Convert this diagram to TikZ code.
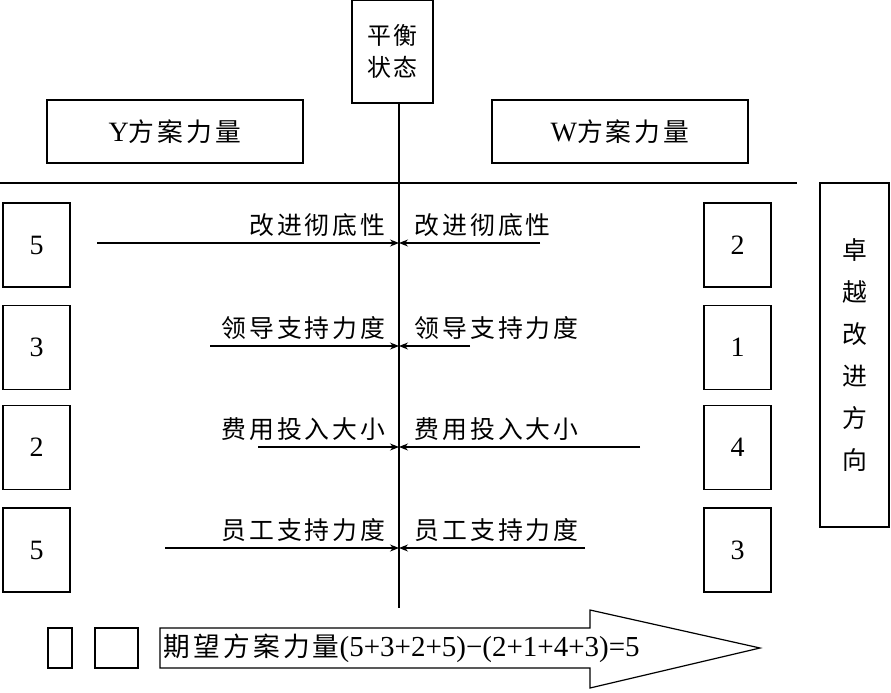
\documentclass[tikz,border=0pt]{standalone}
\usepackage{fontspec}
\usetikzlibrary{arrows.meta}
\setmainfont{Liberation Serif}
\newfontfamily\cjk{Noto Sans CJK SC}[Scale=0.92,LetterSpace=12]
\newfontfamily\cjkt{Noto Sans CJK SC}[Scale=0.92]
\begin{document}
\begin{tikzpicture}[x=1pt,y=-1pt,line width=1.2pt,
  bx/.style={draw,inner sep=0pt},
  num/.style={font=\fontsize{28}{32}\selectfont},
  lbl/.style={font=\fontsize{27}{30}\selectfont\cjk},
  ar/.style={-{Stealth[length=9pt,width=7pt]}}]
\useasboundingbox (0,0) rectangle (891,693);
\node[bx,minimum width=81pt,minimum height=103pt,align=center,font=\fontsize{26}{32}\selectfont\cjk] (top) at (392.5,51.5) {平衡\\状态};
\coordinate (vb) at (399,608);
\draw (top.south -| 399,0) -- (vb);
\node[bx,minimum width=256pt,minimum height=63pt,num] (Y) at (175,131.5) {Y{\cjk 方案力量}};
\node[bx,minimum width=256pt,minimum height=63pt,num] (W) at (620,131.5) {W{\cjk 方案力量}};
\coordinate (h1) at (0,183); \coordinate (h2) at (797,183);
\draw (h1) -- (h2);
\node[bx,minimum width=69pt,minimum height=344pt,align=center,font=\fontsize{27}{30}\selectfont\cjkt] (R) at (854.5,355) {卓\\[12pt]越\\[12pt]改\\[12pt]进\\[12pt]方\\[12pt]向};
\foreach \i/\yc/\l/\r/\xl/\xr/\ya/\txt in {1/245/5/2/97/540/243/改进彻底性, 2/347.5/3/1/210/470/346/领导支持力度, 3/447.5/2/4/258/640/447/费用投入大小, 4/550/5/3/165/585/548/员工支持力度}{
  \node[bx,minimum width=67pt,minimum height=84pt,num] (L\i) at (36.5,\yc) {\l};
  \node[bx,minimum width=67pt,minimum height=84pt,num] (Rb\i) at (737.5,\yc) {\r};
  \coordinate (c\i) at (399,\ya);
  \coordinate (sl\i) at (\xl,\ya);
  \coordinate (sr\i) at (\xr,\ya);
  \draw[ar] (sl\i) -- (c\i);
  \draw[ar] (sr\i) -- (c\i);
  \node[lbl,anchor=south east,inner sep=0pt] (tl\i) at (386,\ya-6) {\txt};
  \node[lbl,anchor=south west,inner sep=0pt] (tr\i) at (414,\ya-6) {\txt};
}
\node[bx,minimum width=24pt,minimum height=40pt] (s1) at (60,648) {};
\node[bx,minimum width=43pt,minimum height=40pt] (s2) at (116.5,648) {};
\draw (160,628) -- (590,628) -- (590,610) -- (760,648) -- (590,688) -- (590,668) -- (160,668) -- cycle;
\node[anchor=west,inner sep=0pt,font=\fontsize{29}{32}\selectfont] (eq) at (163,648) {{\cjk 期望方案力量}(5+3+2+5)−(2+1+4+3)=5};
\end{tikzpicture}
\end{document}
